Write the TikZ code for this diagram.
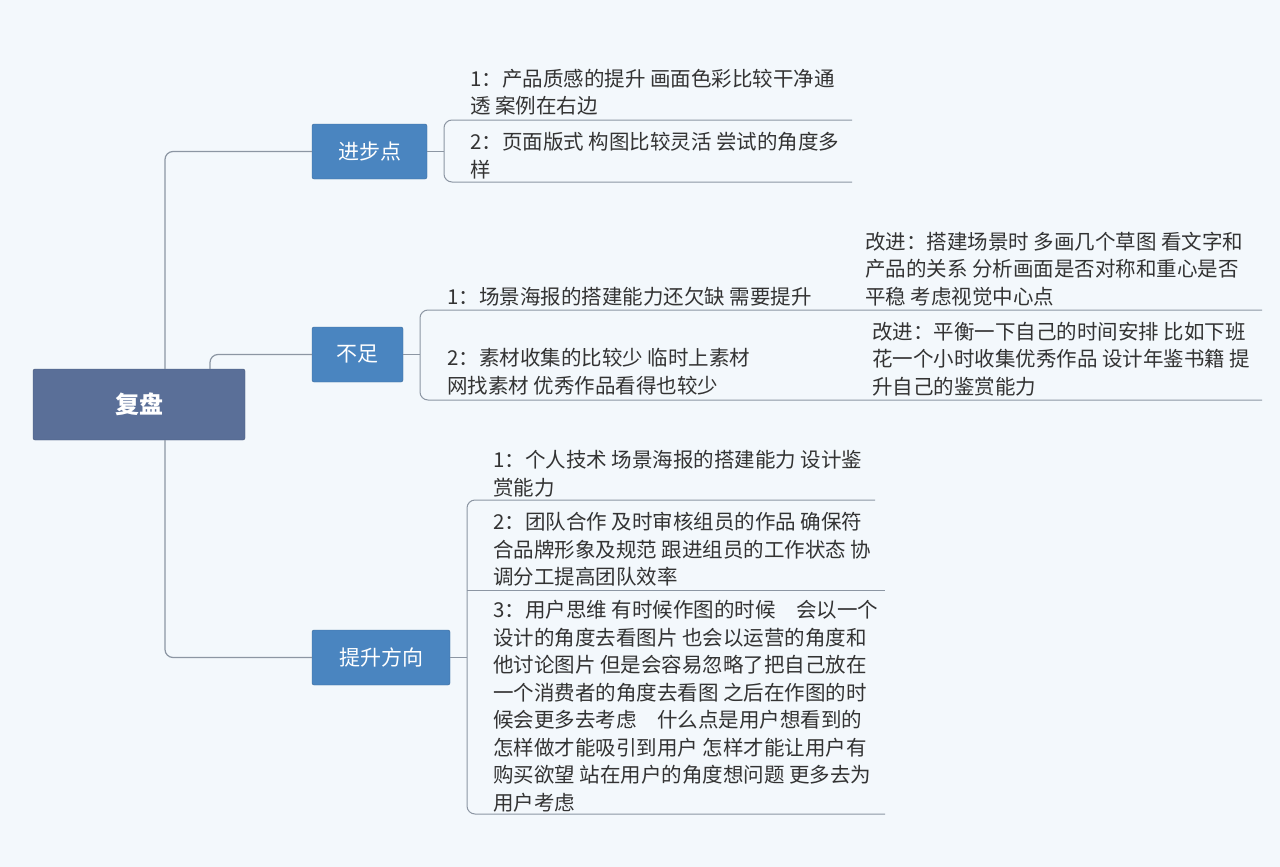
\documentclass[tikz,border=0pt]{standalone}
\usepackage{fontspec}
\newfontfamily\cjk{Noto Sans CJK SC}
\definecolor{bg}{HTML}{F3F8FC}
\definecolor{rootc}{HTML}{5A6F98}
\definecolor{brc}{HTML}{4A85C0}
\definecolor{lnc}{HTML}{8C96A3}
\definecolor{txc}{HTML}{333333}
\tikzset{
 rootbox/.style={draw=rootc!80!black,fill=rootc,rounded corners=2pt,text=white,font=\cjk\fontsize{24}{28}\selectfont\bfseries},
 brbox/.style={draw=brc!80!black,fill=brc,rounded corners=2pt,text=white,font=\cjk\fontsize{21}{26}\selectfont},
 item/.style={anchor=west,inner sep=0pt,align=left,text=txc,font=\cjk\fontsize{20.5}{27.5}\selectfont},
 conn/.style={draw=lnc,line width=1.2pt,rounded corners=8pt},
 uline/.style={draw=lnc,line width=1pt,rounded corners=8pt}
}
\begin{document}
\begin{tikzpicture}[x=1pt,y=-1pt]
\fill[bg] (0,0) rectangle (1280,867);
\useasboundingbox (0,0) rectangle (1280,867);
\node[rootbox,minimum width=212pt,minimum height=71pt] (root) at (139,404.5) {复盘};
\node[brbox,minimum width=115pt,minimum height=55pt] (b1) at (369.5,151.5) {进步点};
\node[brbox,minimum width=91pt,minimum height=55pt] (b2) at (357.5,354.5) {不足};
\node[brbox,minimum width=138pt,minimum height=55pt] (b3) at (381,657.5) {提升方向};
\draw[conn] (root.north -| 165,0) |- (b1.west);
\draw[conn] (root.north -| 210,0) |- (b2.west);
\draw[conn] (root.south -| 165,0) |- (b3.west);
% branch 1
\draw[uline] (b1.east) -- (444,151.5);
\draw[uline] (852,120) -- (444,120) -- (444,182) -- (852,182);
\node[item] (t11) at (470,92) {1：产品质感的提升 画面色彩比较干净通\\透 案例在右边};
\node[item] (t12) at (470,155.5) {2：页面版式 构图比较灵活 尝试的角度多\\样};
% branch 2
\draw[uline] (b2.east) -- (420,354.5);
\draw[uline] (1262,310) -- (420,310) -- (420,400) -- (1262,400);
\node[item] (t21) at (447,297) {1：场景海报的搭建能力还欠缺 需要提升};
\node[item] (t21c) at (865,269) {改进：搭建场景时 多画几个草图 看文字和\\产品的关系 分析画面是否对称和重心是否\\平稳 考虑视觉中心点};
\node[item] (t22) at (447,371.5) {2：素材收集的比较少 临时上素材\\网找素材 优秀作品看得也较少};
\node[item] (t22c) at (872,359) {改进：平衡一下自己的时间安排 比如下班\\花一个小时收集优秀作品 设计年鉴书籍 提\\升自己的鉴赏能力};
% branch 3
\draw[uline] (b3.east) -- (467,657.5);
\draw[uline] (875,500) -- (467,500) -- (467,814) -- (885,814);
\draw[uline] (467,590) -- (885,590);
\node[item] (t31) at (493,473.5) {1：个人技术 场景海报的搭建能力 设计鉴\\赏能力};
\node[item] (t32) at (493,549.5) {2：团队合作 及时审核组员的作品 确保符\\合品牌形象及规范 跟进组员的工作状态 协\\调分工提高团队效率};
\node[item] (t33) at (493,706) {3：用户思维 有时候作图的时候\quad 会以一个\\设计的角度去看图片 也会以运营的角度和\\他讨论图片 但是会容易忽略了把自己放在\\一个消费者的角度去看图 之后在作图的时\\候会更多去考虑\quad 什么点是用户想看到的\\怎样做才能吸引到用户 怎样才能让用户有\\购买欲望 站在用户的角度想问题 更多去为\\用户考虑};
\end{tikzpicture}
\end{document}
